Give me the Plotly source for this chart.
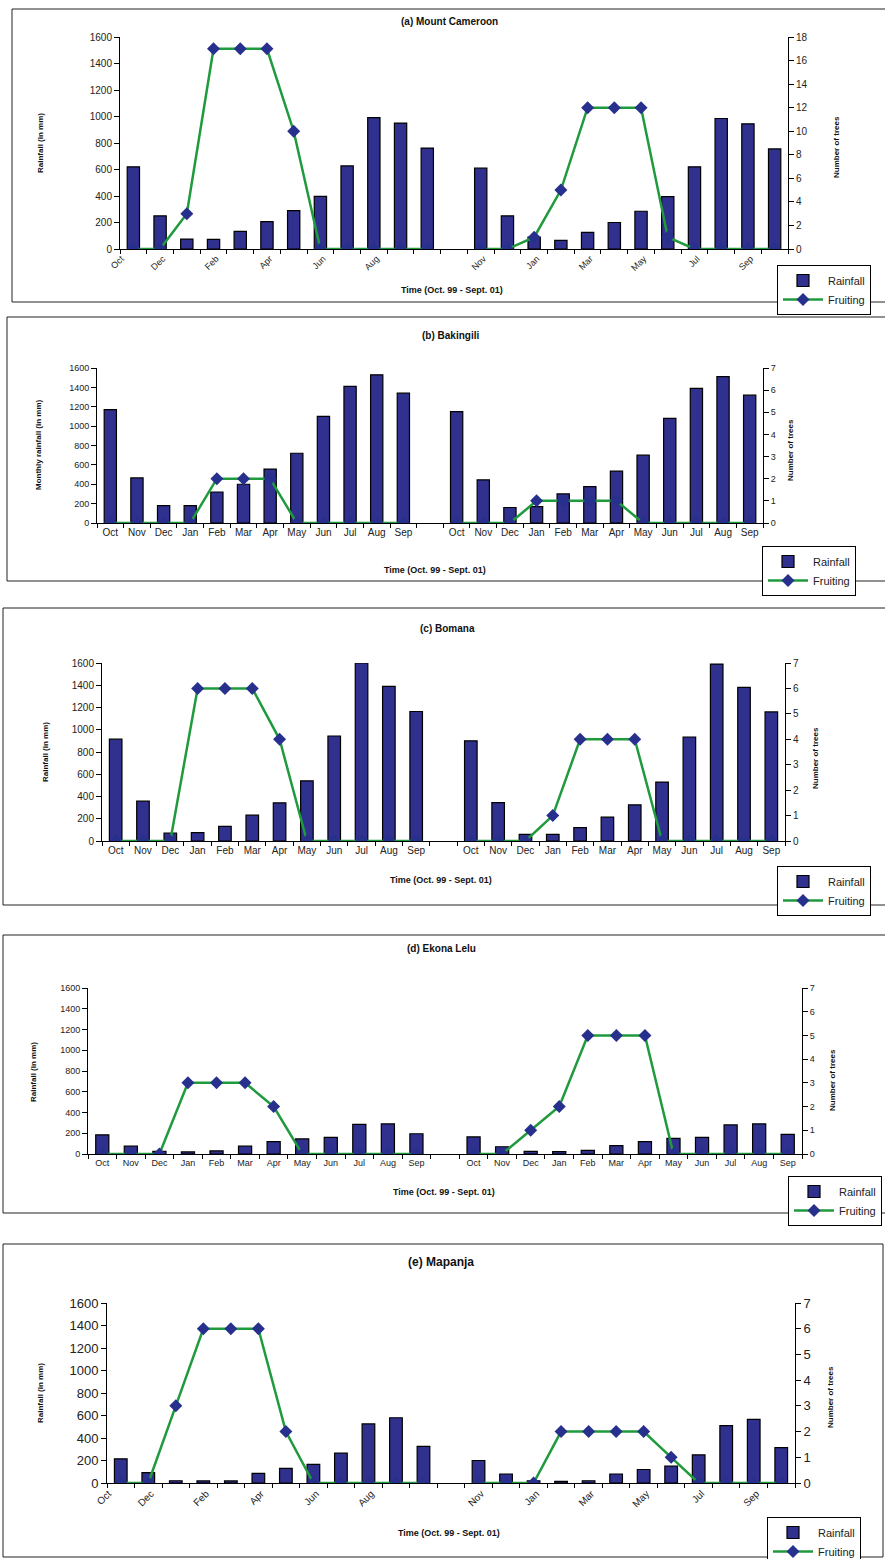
import plotly.graph_objects as go

# ---------------- data ----------------
months = ["Oct", "Nov", "Dec", "Jan", "Feb", "Mar", "Apr", "May", "Jun", "Jul", "Aug", "Sep"]
periods = months + months  # Oct 99 - Sep 00, Oct 00 - Sep 01

rain_a = [620, 250, 75, 72, 133, 207, 290, 397, 627, 992, 950, 762,
          610, 250, 90, 65, 125, 200, 285, 395, 620, 985, 945, 755]
fruit_a = [0, 0, 3, 17, 17, 17, 10, 0, 0, 0, 0, 0,
           0, 0, 1, 5, 12, 12, 12, 1, 0, 0, 0, 0]

rain_b = [1170, 465, 180, 180, 320, 400, 557, 720, 1100, 1410, 1530, 1340,
          1150, 445, 160, 170, 300, 375, 535, 700, 1080, 1390, 1510, 1320]
fruit_b = [0, 0, 0, 0, 2, 2, 2, 0, 0, 0, 0, 0,
           0, 0, 0, 1, 1, 1, 1, 0, 0, 0, 0, 0]

rain_c = [915, 358, 72, 75, 132, 232, 343, 541, 944, 1600, 1389, 1164,
          900, 345, 60, 60, 120, 215, 325, 530, 935, 1590, 1380, 1160]
fruit_c = [0, 0, 0, 6, 6, 6, 4, 0, 0, 0, 0, 0,
           0, 0, 0, 1, 4, 4, 4, 0, 0, 0, 0, 0]

rain_d = [185, 75, 25, 20, 30, 75, 120, 145, 160, 285, 290, 195,
          165, 70, 25, 22, 35, 80, 120, 150, 160, 280, 290, 190]
fruit_d = [0, 0, 0, 3, 3, 3, 2, 0, 0, 0, 0, 0,
           0, 0, 1, 2, 5, 5, 5, 0, 0, 0, 0, 0]

rain_e = [215, 92, 20, 18, 18, 85, 130, 165, 265, 525, 580, 325,
          200, 80, 20, 15, 20, 80, 120, 150, 250, 510, 565, 315]
fruit_e = [0, 0, 3, 6, 6, 6, 2, 0, 0, 0, 0, 0,
           0, 0, 0, 2, 2, 2, 2, 1, 0, 0, 0, 0]

titles = ["(a) Mount Cameroon", "(b) Bakingili", "(c) Bomana", "(d) Ekona Lelu", "(e) Mapanja"]
left_titles = ["Rainfall (in mm)", "Monthly rainfall (in mm)", "Rainfall (in mm)",
               "Rainfall (in mm)", "Rainfall (in mm)"]
right_title = "Number of trees"
x_title = "Time (Oct. 99 - Sept. 01)"
right_max = [18, 7, 7, 7, 7]
right_dtick = [2, 1, 1, 1, 1]

# ---------------- layout geometry (pixels) ----------------
W, H = 885, 1559


def fx(p):
    return p / W


def fy(p):
    return 1 - p / H


geo = [
    dict(box=(12, 9, 900, 302), xd=(120, 788), yd=(249, 37), rot=True, tt=(449, 22), xt=(452, 290),
         lt=(40, 143), rt=(837, 147), lg=(777, 265), yf=10, xf=9, tf=10),
    dict(box=(7, 317, 900, 581), xd=(97, 763), yd=(523, 368), rot=False, tt=(450, 336), xt=(435, 570),
         lt=(38, 445), rt=(790, 450), lg=(762, 546), yf=9, xf=10, tf=10),
    dict(box=(3, 608, 900, 905), xd=(102, 785), yd=(841, 663), rot=False, tt=(447, 628), xt=(441, 880),
         lt=(45, 752), rt=(815, 758), lg=(777, 866), yf=10, xf=10, tf=10),
    dict(box=(3, 935, 900, 1213), xd=(88, 802), yd=(1154, 988), rot=False, tt=(441, 948), xt=(444, 1192),
         lt=(33, 1072), rt=(832, 1080), lg=(788, 1176), yf=9, xf=9, tf=10),
    dict(box=(3, 1244, 883, 1557), xd=(107, 795), yd=(1483, 1303), rot=True, tt=(441, 1262), xt=(449, 1533),
         lt=(40, 1393), rt=(830, 1397), lg=(767, 1517), yf=13, xf=10, tf=12),
]

rains = [rain_a, rain_b, rain_c, rain_d, rain_e]
fruits = [fruit_a, fruit_b, fruit_c, fruit_d, fruit_e]

BAR = "#30308f"
GREEN = "#1f9a3d"
MARK = "#27308c"
FONT = "Liberation Sans, Arial, sans-serif"
NARROW = "Liberation Sans Narrow, Arial Narrow, Liberation Sans, Arial, sans-serif"

# positions: 12 months, one empty slot, 12 months
xpos = list(range(25))


def with_gap(vals):
    return list(vals[:12]) + [None] + list(vals[12:])


fig = go.Figure()
shapes = []
annotations = []
layout = {}

for i in range(5):
    n = i + 1
    g = geo[i]
    xref = "x" if n == 1 else f"x{n}"
    xkey = "xaxis" if n == 1 else f"xaxis{n}"
    li, ri = 2 * n - 1, 2 * n
    yl = "y" if li == 1 else f"y{li}"
    yr = f"y{ri}"
    ylkey = "yaxis" if li == 1 else f"yaxis{li}"
    yrkey = f"yaxis{ri}"
    lgkey = "legend" if n == 1 else f"legend{n}"

    fig.add_trace(go.Bar(
        x=xpos, y=with_gap(rains[i]), xaxis=xref, yaxis=yl, name="Rainfall",
        width=0.46, marker=dict(color=BAR, line=dict(color="black", width=1.2)),
        legend=lgkey, showlegend=True))
    fig.add_trace(go.Scatter(
        x=xpos, y=with_gap(fruits[i]), xaxis=xref, yaxis=yr, name="Fruiting",
        mode="lines+markers", line=dict(color=GREEN, width=2.5),
        marker=dict(symbol="diamond", size=10, color=MARK),
        legend=lgkey, showlegend=True))

    # x tick labels
    if g["rot"]:
        tv, tt = [], []
        for k in range(24):
            pos = k if k < 12 else k + 1
            if (k < 12 and k % 2 == 0) or (k >= 12 and k % 2 == 1):
                tv.append(max(-0.45, pos - 0.9))
                tt.append(periods[k])
        xticks = dict(tickmode="array", tickvals=tv, ticktext=tt, tickangle=-45,
                      tickfont=dict(family=FONT, size=g["xf"], color="#222"))
    else:
        tv = [k if k < 12 else k + 1 for k in range(24)]
        xticks = dict(tickmode="array", tickvals=tv, ticktext=periods, tickangle=0,
                      tickfont=dict(family=FONT, size=g["xf"], color="#222"))

    layout[xkey] = dict(
        domain=[fx(g["xd"][0]), fx(g["xd"][1])], anchor=yl, range=[-0.5, 24.5],
        showline=True, linecolor="black", linewidth=1, showgrid=False, zeroline=False,
        ticks="", ticklen=0,
        minor=dict(tickmode="array", tickvals=[k + 0.5 for k in range(-1, 25)],
                   ticks="outside", ticklen=4, tickcolor="black"),
        fixedrange=True, **xticks)
    layout[ylkey] = dict(
        domain=[fy(g["yd"][0]), fy(g["yd"][1])], anchor=xref, range=[0, 1600], dtick=200,
        showline=True, linecolor="black", linewidth=1, showgrid=False, zeroline=False,
        ticks="outside", ticklen=5, tickcolor="black",
        tickfont=dict(family=FONT, size=g["yf"], color="#222"))
    layout[yrkey] = dict(
        overlaying=yl, anchor=xref, side="right", range=[0, right_max[i]], dtick=right_dtick[i],
        showline=True, linecolor="black", linewidth=1, showgrid=False, zeroline=False,
        ticks="outside", ticklen=5, tickcolor="black",
        tickfont=dict(family=FONT, size=g["yf"], color="#222"))

    layout[lgkey] = dict(
        x=fx(g["lg"][0]), y=fy(g["lg"][1]), xanchor="left", yanchor="top",
        bgcolor="white", bordercolor="black", borderwidth=1,
        font=dict(family=FONT, size=11, color="#222"), traceorder="normal",
        itemwidth=40, tracegroupgap=0)

    x0, y0, x1, y1 = g["box"]
    shapes.append(dict(type="rect", xref="paper", yref="paper",
                       x0=fx(x0), x1=fx(x1), y0=fy(y1), y1=fy(y0),
                       line=dict(color="#222", width=1), layer="below"))

    annotations.append(dict(text=f"<b>{titles[i]}</b>", xref="paper", yref="paper",
                            x=fx(g["tt"][0]), y=fy(g["tt"][1]), showarrow=False,
                            xanchor="center", yanchor="middle",
                            font=dict(family=FONT, size=g["tf"], color="#111")))
    annotations.append(dict(text=f"<b>{x_title}</b>", xref="paper", yref="paper",
                            x=fx(g["xt"][0]), y=fy(g["xt"][1]), showarrow=False,
                            xanchor="center", yanchor="middle",
                            font=dict(family=FONT, size=9, color="#111")))
    annotations.append(dict(text=f"<b>{left_titles[i]}</b>", xref="paper", yref="paper",
                            x=fx(g["lt"][0]), y=fy(g["lt"][1]), showarrow=False, textangle=-90,
                            xanchor="center", yanchor="middle",
                            font=dict(family=NARROW, size=8, color="#111")))
    annotations.append(dict(text=f"<b>{right_title}</b>", xref="paper", yref="paper",
                            x=fx(g["rt"][0]), y=fy(g["rt"][1]), showarrow=False, textangle=-90,
                            xanchor="center", yanchor="middle",
                            font=dict(family=NARROW, size=8, color="#111")))

fig.update_layout(
    width=W, height=H, margin=dict(l=0, r=0, t=0, b=0, autoexpand=False),
    paper_bgcolor="white", plot_bgcolor="rgba(0,0,0,0)",
    barmode="overlay", shapes=shapes, annotations=annotations,
    font=dict(family=FONT, color="#222"), **layout)

fig.write_html("out.html", config={"displayModeBar": False},
               post_script="document.body.style.margin='0';document.body.style.overflow='hidden';")
